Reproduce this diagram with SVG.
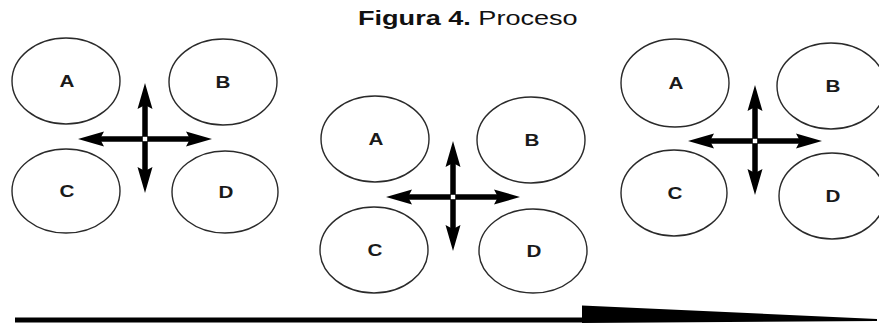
<svg xmlns="http://www.w3.org/2000/svg" width="879" height="325" viewBox="0 0 879 325">
<style>
.n ellipse{fill:none;stroke:#2a2a2a;stroke-width:1.4}
.n text{font-family:"Liberation Sans",Arial,sans-serif;font-weight:bold;font-size:16px;fill:#1a1a1a;text-anchor:middle}
.ar{stroke:#000;stroke-width:5.5;fill:none;marker-start:url(#ah);marker-end:url(#ah)}
.t{font-family:"Liberation Sans",Arial,sans-serif;font-size:21px;fill:#111}
</style>
<defs>
<marker id="ah" markerUnits="userSpaceOnUse" orient="auto-start-reverse" refX="4" refY="0" markerWidth="30" markerHeight="18" overflow="visible">
<path d="M26,0 L0,-7.5 L4,0 L0,7.5 Z" fill="#000"/>
</marker>
<g id="cross">
<line class="ar" x1="-45" y1="0" x2="45" y2="0"/>
<line class="ar" x1="0" y1="-34" x2="0" y2="32"/>
<rect x="-2.2" y="-2.2" width="4.4" height="4.4" fill="#fff"/>
</g>
</defs>
<g id="title">
<text class="t" transform="translate(358,25) scale(1.29,1)"><tspan font-weight="bold">Figura 4.</tspan> Proceso</text>
</g>
<g id="g1" class="n">
<g id="g1-A"><ellipse cx="66" cy="81" rx="54" ry="43"/><text transform="translate(67,86.5) scale(1.29,1)">A</text></g>
<g id="g1-B"><ellipse cx="223" cy="82" rx="54" ry="43"/><text transform="translate(223,87.5) scale(1.29,1)">B</text></g>
<g id="g1-C"><ellipse cx="66" cy="191" rx="54" ry="42"/><text transform="translate(67,196.5) scale(1.29,1)">C</text></g>
<g id="g1-D"><ellipse cx="225" cy="192" rx="53" ry="41"/><text transform="translate(226,197.5) scale(1.29,1)">D</text></g>
</g>
<g id="g2" class="n">
<g id="g2-A"><ellipse cx="375" cy="139" rx="54" ry="43"/><text transform="translate(376,144.5) scale(1.29,1)">A</text></g>
<g id="g2-B"><ellipse cx="531" cy="140" rx="54" ry="43"/><text transform="translate(532,145.5) scale(1.29,1)">B</text></g>
<g id="g2-C"><ellipse cx="374" cy="250" rx="54" ry="43"/><text transform="translate(375,255.5) scale(1.29,1)">C</text></g>
<g id="g2-D"><ellipse cx="533" cy="251" rx="54" ry="42"/><text transform="translate(534,256.5) scale(1.29,1)">D</text></g>
</g>
<g id="g3" class="n">
<g id="g3-A"><ellipse cx="675" cy="83" rx="54" ry="44"/><text transform="translate(676,88.5) scale(1.29,1)">A</text></g>
<g id="g3-B"><ellipse cx="831" cy="86" rx="54" ry="43"/><text transform="translate(833,91.5) scale(1.29,1)">B</text></g>
<g id="g3-C"><ellipse cx="674" cy="193" rx="53" ry="43"/><text transform="translate(675,198.5) scale(1.29,1)">C</text></g>
<g id="g3-D"><ellipse cx="832" cy="196" rx="53" ry="43"/><text transform="translate(833,201.5) scale(1.29,1)">D</text></g>
</g>
<g id="connectors">
<use href="#cross" transform="translate(145,139)"/>
<use href="#cross" transform="translate(453,197)"/>
<use href="#cross" transform="translate(755,141)"/>
<line x1="15" y1="320" x2="584" y2="320" stroke="#000" stroke-width="5"/>
<polygon points="582,305.5 877,319 877,321 582,323" fill="#000"/>
</g>
</svg>
